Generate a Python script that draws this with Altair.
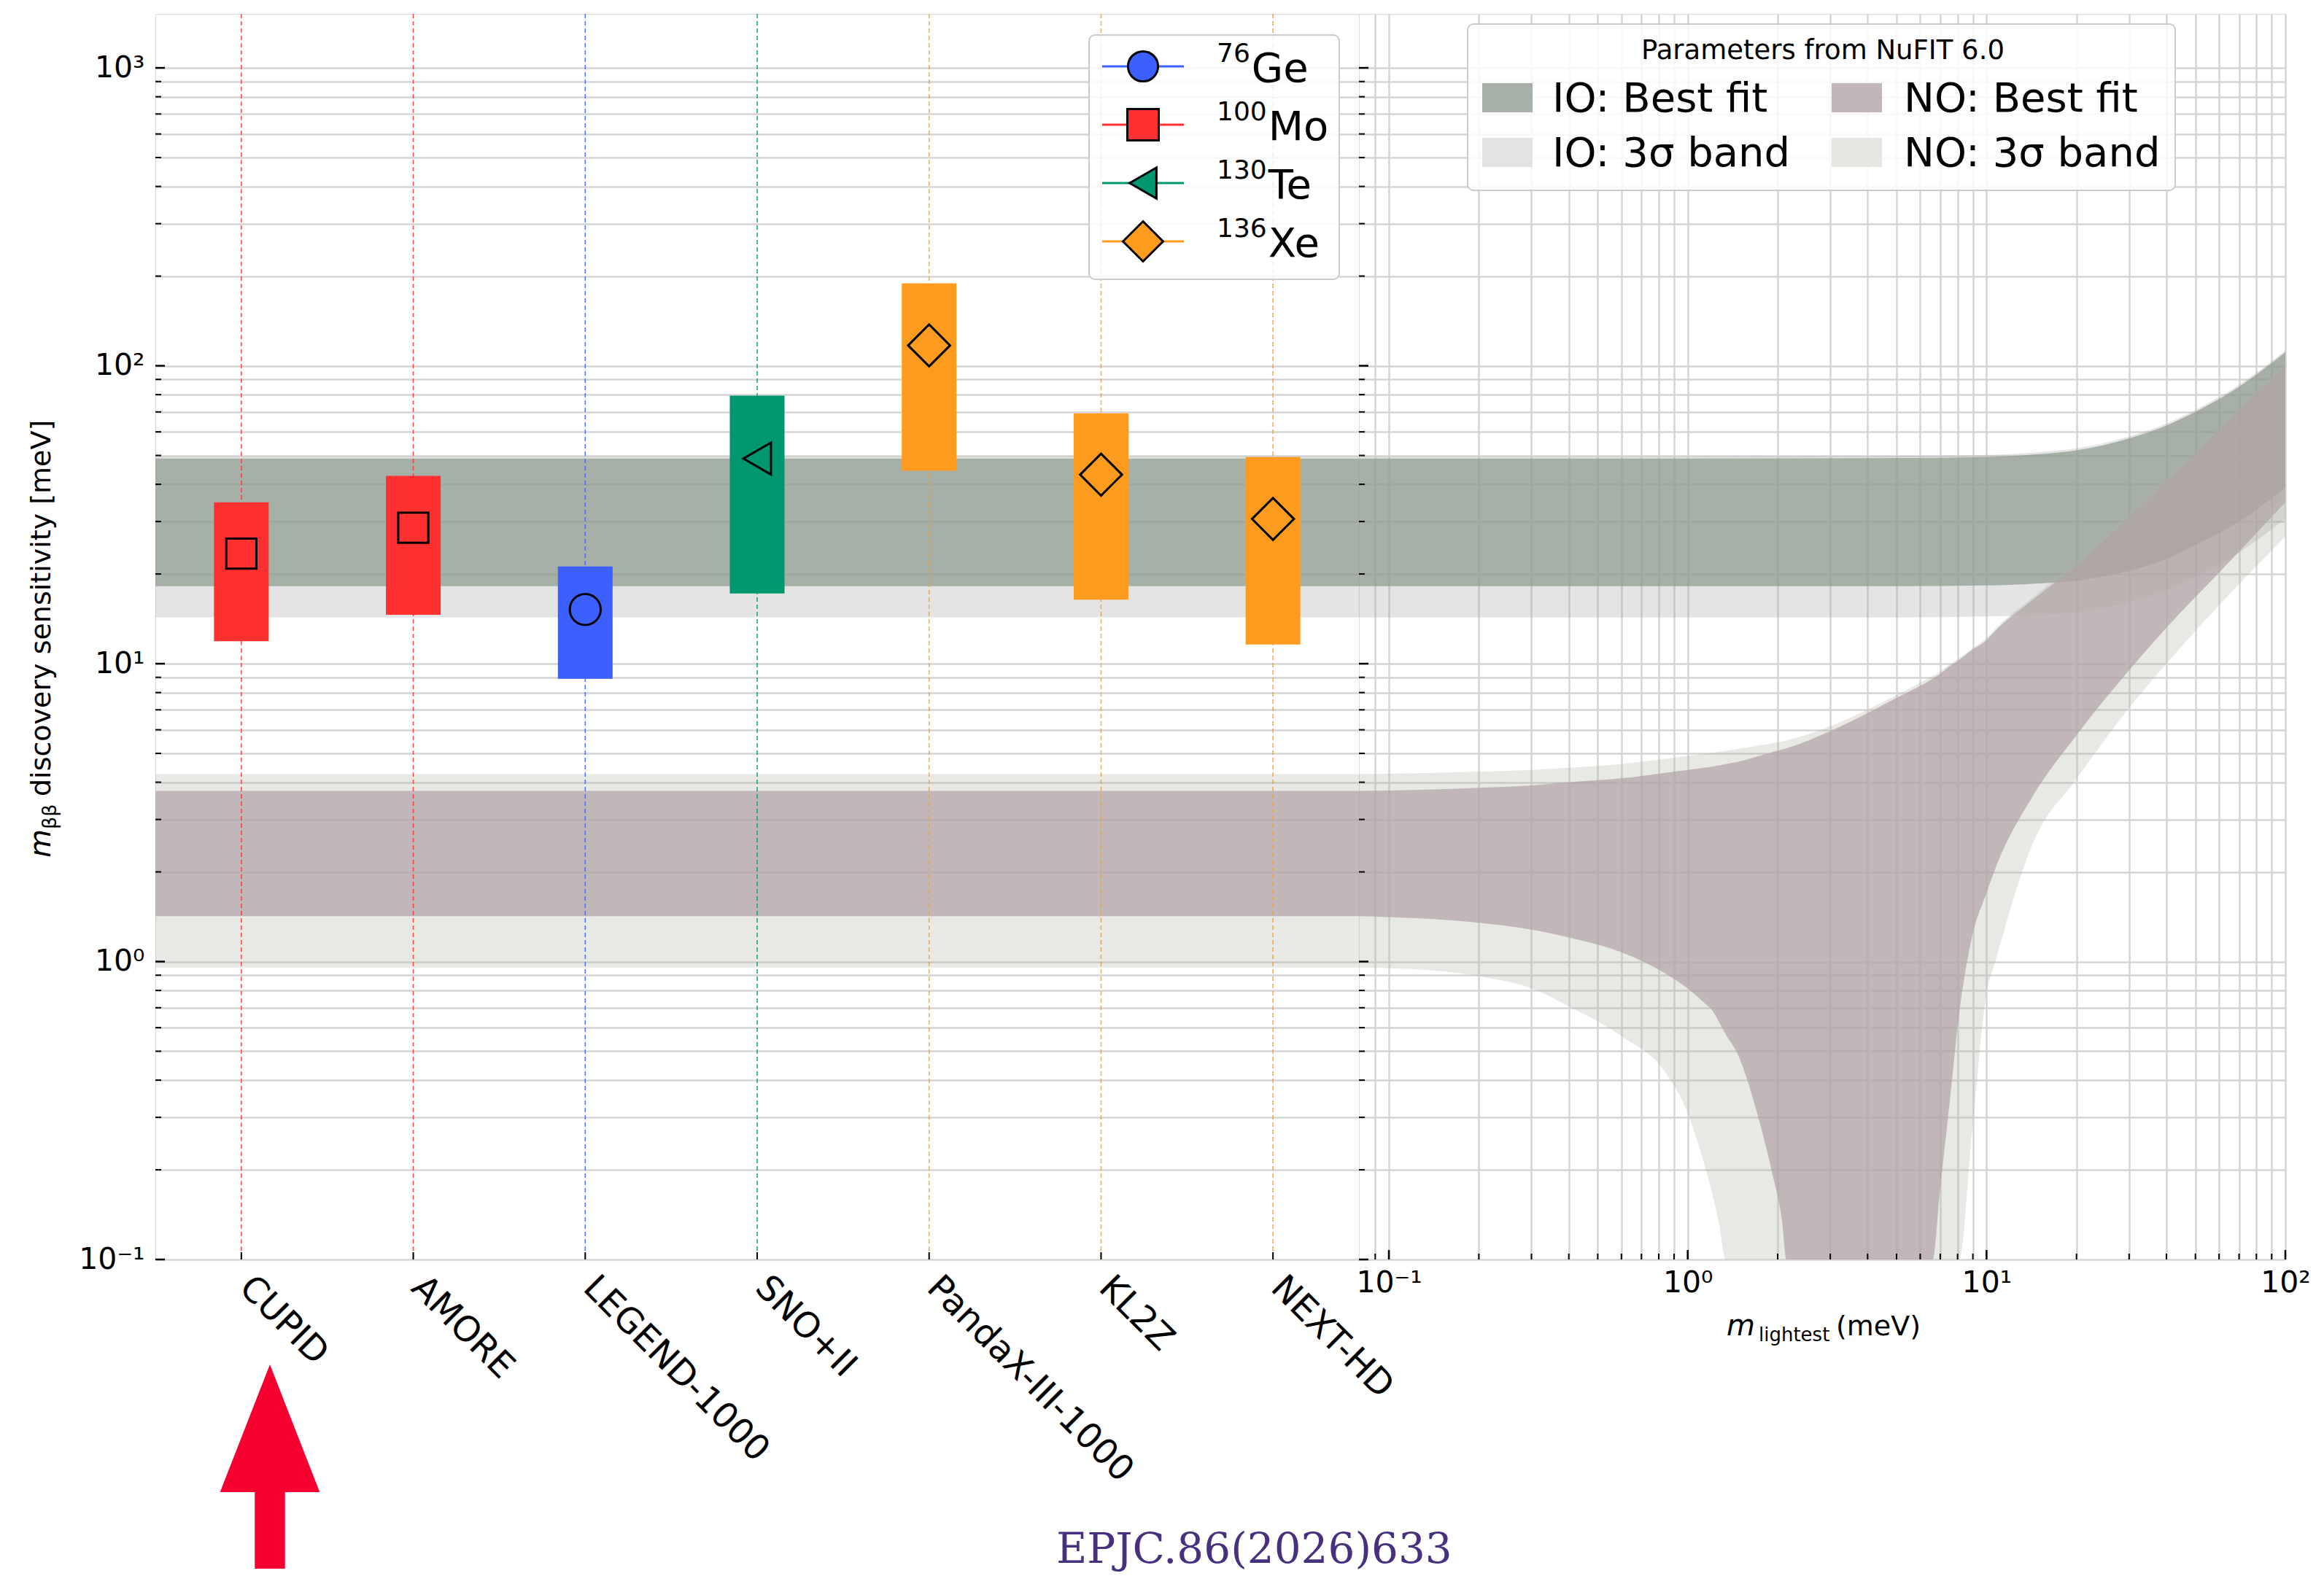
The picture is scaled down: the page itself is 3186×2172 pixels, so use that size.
import altair as alt
import pandas as pd

# ---------------- data ----------------
EXPERIMENTS = ["CUPID", "AMORE", "LEGEND-1000", "SNO+II", "PandaX-III-1000", "KL2Z", "NEXT-HD"]
EXP_ISOTOPE = ["Mo", "Mo", "Ge", "Te", "Xe", "Xe", "Xe"]
SENS_LOW = [11.9, 14.6, 8.9, 17.2, 44.4, 16.4, 11.6]
SENS_MID = [23.4, 28.6, 15.2, 48.8, 117.0, 43.1, 30.6]
SENS_HIGH = [34.8, 42.7, 21.2, 79.4, 189.0, 69.2, 49.4]

ISOTOPES = ["Ge", "Mo", "Te", "Xe"]
ISOTOPE_MASS = ["76", "100", "130", "136"]
ISOTOPE_COLORS = ["#3c5fff", "#ff3030", "#00966e", "#fd9b1f"]
ISOTOPE_SHAPES = ["circle", "square", "triangle-left", "diamond"]

# bands at m_lightest -> 0 (left panel)
IO_BF = [18.2, 48.8]
IO_3S = [14.3, 49.6]
NO_BF = [1.42, 3.74]
NO_3S = [0.955, 4.26]

# inverted ordering vs m_lightest (right panel)
IO_M = [0.079, 1, 5, 10, 15, 20, 30, 40, 50, 70, 100]
IO_BF_LO = [18.2, 18.2, 18.2, 18.3, 18.6, 19.0, 20.5, 22.5, 25.0, 30.0, 39.0]
IO_BF_HI = [48.8, 48.8, 49.0, 49.4, 50.5, 52.0, 57.0, 63.0, 70.0, 85.0, 111.0]
IO_3S_LO = [14.3, 14.3, 14.3, 14.4, 14.6, 14.9, 16.1, 17.6, 19.6, 23.6, 30.6]
IO_3S_HI = [49.6, 49.6, 49.8, 50.2, 51.3, 52.8, 57.9, 64.0, 71.1, 86.4, 112.5]

# normal ordering vs m_lightest (right panel)
NO_M = [0.079, 0.1, 0.2, 0.3, 0.4, 0.6, 0.84, 1.0, 1.13, 1.22, 1.27, 1.34, 1.47, 1.71, 1.92,
        2.07, 2.14, 3.0, 5.0, 6.6, 6.98, 7.53, 8.11, 8.91, 10.0, 10.7, 14.3, 20, 30, 40, 60, 100]
NO_BF_HI = [3.74, 3.75, 3.83, 3.9, 4.0, 4.12, 4.3, 4.4, 4.47, 4.52, 4.55, 4.6, 4.68, 4.88, 5.05,
            5.15, 5.2, 5.94, 7.67, 8.9, 9.23, 9.8, 10.3, 11.1, 12.0, 12.9, 16.4, 21.4, 31.2, 41.0, 60.8, 100.0]
NO_BF_LO = [1.42, 1.41, 1.35, 1.28, 1.205, 1.074, 0.913, 0.813, 0.73, 0.676, 0.63, 0.57, 0.489, 0.308, 0.194,
            0.134, 0.1, 0.1, 0.1, 0.1, 0.169, 0.338, 0.676, 1.19, 1.7, 2.05, 3.6, 5.75, 9.5, 13.2, 20.2, 34.8]
NO_3S_HI = [4.26, 4.27, 4.34, 4.4, 4.47, 4.6, 4.79, 4.9, 4.98, 5.03, 5.06, 5.1, 5.17, 5.3, 5.4,
            5.48, 5.52, 6.17, 7.85, 9.1, 9.4, 9.95, 10.45, 11.2, 12.2, 13.1, 16.7, 22.0, 32.0, 42.0, 62.0, 102.0]
NO_3S_LO = [0.955, 0.95, 0.893, 0.813, 0.708, 0.562, 0.426, 0.31, 0.213, 0.16, 0.134, 0.1, 0.1, 0.1, 0.1,
            0.1, 0.1, 0.1, 0.1, 0.1, 0.1, 0.1, 0.1, 0.256, 0.78, 1.0, 2.5, 4.1, 7.1, 10.0, 15.7, 26.7]

Y_MAJOR = [0.1, 1, 10, 100, 1000]
Y_MINOR = [0.2, 0.3, 0.4, 0.5, 0.6, 0.7, 0.8, 0.9, 2, 3, 4, 5, 6, 7, 8, 9,
           20, 30, 40, 50, 60, 70, 80, 90, 200, 300, 400, 500, 600, 700, 800, 900]
X_MAJOR = [0.1, 1, 10, 100]
X_MINOR = [0.09, 0.2, 0.3, 0.4, 0.5, 0.6, 0.7, 0.8, 0.9, 2, 3, 4, 5, 6, 7, 8, 9,
           20, 30, 40, 50, 60, 70, 80, 90]

# ---------------- styling ----------------
FONT = "DejaVu Sans"
GRID = "#d4d4d4"
W_L, W_R, H = 1650, 1270, 1708

IO3_COLOR, IO3_OP = "#a2a5a2", 0.3
IOBF_COLOR, IOBF_OP = "#8c9a8c", 0.7
NO3_COLOR, NO3_OP = "#b2b2a8", 0.3
NOBF_COLOR, NOBF_OP = "#b0a2a5", 0.7

yscale = alt.Scale(type="log", domain=[0.1, 1518], nice=False)
xscale = alt.Scale(type="log", domain=[0.0794, 100], nice=False)
cat_scale = alt.Scale(type="band", domain=EXPERIMENTS, paddingInner=0, paddingOuter=0)
iso_color = alt.Color("iso:N", scale=alt.Scale(domain=ISOTOPES, range=ISOTOPE_COLORS), legend=None)

Y_LABELS = ("datum.value == 1000 ? '10³' : datum.value == 100 ? '10²' : datum.value == 10 ? '10¹' : "
            "datum.value == 1 ? '10⁰' : datum.value == 0.1 ? '10⁻¹' : ''")
X_LABELS = ("datum.value == 100 ? '10²' : datum.value == 10 ? '10¹' : "
            "datum.value == 1 ? '10⁰' : datum.value == 0.1 ? '10⁻¹' : ''")

Y_AXIS_L = alt.Axis(values=Y_MAJOR + Y_MINOR, labelExpr=Y_LABELS, grid=True, gridColor=GRID, gridWidth=2.5,
                    ticks=False, tickSize=0, domain=False, labelPadding=15, labelFontSize=41, labelFont=FONT,
                    labelColor="black", title=None, labelOverlap=False, labelFlush=False)
Y_AXIS_R = alt.Axis(values=Y_MAJOR + Y_MINOR, grid=True, gridColor=GRID, gridWidth=2.5, labels=False,
                    ticks=False, domain=False, title=None)
X_AXIS_R = alt.Axis(values=X_MAJOR + X_MINOR, labelExpr=X_LABELS, grid=True, gridColor=GRID, gridWidth=2.5,
                    ticks=False, tickSize=0, domain=False, labelPadding=12, labelFontSize=41, labelFont=FONT,
                    labelColor="black", title=None, labelOverlap=False, labelFlush=False)
X_AXIS_L = alt.Axis(labelAngle=45, labelAlign="left", labelBaseline="top", labelPadding=14, labelOffset=22,
                    labelFontSize=48, labelFont=FONT, labelColor="black", ticks=False, domain=False,
                    grid=False, title=None, labelOverlap=False, labelLimit=0)


def Xc():
    return alt.X("exp:N", scale=cat_scale, axis=X_AXIS_L)


def dummy():
    return alt.Chart(alt.Data(values=[{"k": 0}]))


def txt(text, x, y, size, align="left", baseline="alphabetic", color="black", font=FONT, **kw):
    return dummy().mark_text(text=text, fontSize=size, font=font, color=color, align=align,
                             baseline=baseline, **kw).encode(x=alt.value(x), y=alt.value(y))


def box(x1, x2, y1, y2, **kw):
    return dummy().mark_rect(**kw).encode(x=alt.value(x1), x2=alt.value(x2), y=alt.value(y1), y2=alt.value(y2))


exp_df = pd.DataFrame({"exp": EXPERIMENTS, "iso": EXP_ISOTOPE, "lo": SENS_LOW, "mid": SENS_MID, "hi": SENS_HIGH})

# ---------------- left panel ----------------
left_layers = []
for (lo, hi), col, op in [(IO_3S, IO3_COLOR, IO3_OP), (IO_BF, IOBF_COLOR, IOBF_OP),
                          (NO_3S, NO3_COLOR, NO3_OP), (NO_BF, NOBF_COLOR, NOBF_OP)]:
    left_layers.append(
        alt.Chart(alt.Data(values=[{"lo": lo, "hi": hi}])).mark_rect(color=col, opacity=op).encode(
            x=alt.value(0), x2=alt.value(W_L),
            y=alt.Y("lo:Q", scale=yscale, axis=Y_AXIS_L), y2="hi:Q"))

left_layers.append(alt.Chart(exp_df).mark_rule(strokeDash=[6, 4], strokeWidth=1.6, opacity=0.85).encode(
    x=Xc(), color=iso_color, y=alt.value(0), y2=alt.value(H)))
left_layers.append(alt.Chart(exp_df).mark_rule(color="black", strokeWidth=2).encode(
    x=Xc(), y=alt.value(H), y2=alt.value(H - 10)))
left_layers.append(alt.Chart(exp_df).mark_bar(size=75, opacity=1).encode(
    x=Xc(), y=alt.Y("lo:Q", scale=yscale, axis=Y_AXIS_L), y2="hi:Q", color=iso_color))

PLOT_SIZES = {"circle": 1800, "square": 1700, "triangle-left": 1900, "diamond": 3300}
for iso, col, shp in zip(ISOTOPES, ISOTOPE_COLORS, ISOTOPE_SHAPES):
    left_layers.append(alt.Chart(exp_df).transform_filter(alt.datum.iso == iso).mark_point(
        shape=shp, size=PLOT_SIZES[shp], filled=True, fill=col, stroke="black", strokeWidth=3,
        opacity=1, fillOpacity=1, strokeOpacity=1).encode(
        x=Xc(), y=alt.Y("mid:Q", scale=yscale, axis=Y_AXIS_L)))

# inward ticks on left axis
left_layers.append(alt.Chart(pd.DataFrame({"v": Y_MAJOR})).mark_rule(color="black", strokeWidth=2.5).encode(
    x=alt.value(0), x2=alt.value(13), y=alt.Y("v:Q", scale=yscale, axis=Y_AXIS_L)))
left_layers.append(alt.Chart(pd.DataFrame({"v": Y_MINOR})).mark_rule(color="black", strokeWidth=2).encode(
    x=alt.value(0), x2=alt.value(8), y=alt.Y("v:Q", scale=yscale, axis=Y_AXIS_L)))

# isotope legend
left_layers.append(box(1280, 1623, 29, 364, fill="white", fillOpacity=0.8, stroke="#cccccc",
                       strokeWidth=2, cornerRadius=8))
LEG_SIZES = {"circle": 1700, "square": 1850, "triangle-left": 1800, "diamond": 3025}
for i, (iso, mass, col, shp) in enumerate(zip(ISOTOPES, ISOTOPE_MASS, ISOTOPE_COLORS, ISOTOPE_SHAPES)):
    cy = 72 + i * 80
    left_layers.append(dummy().mark_rule(color=col, strokeWidth=3).encode(
        x=alt.value(1298), x2=alt.value(1410), y=alt.value(cy)))
    left_layers.append(dummy().mark_point(shape=shp, size=LEG_SIZES[shp], filled=True, fill=col,
                                          stroke="black", strokeWidth=3, opacity=1).encode(
        x=alt.value(1354), y=alt.value(cy)))
    left_layers.append(txt(mass, 1455, cy - 6, 36))
    left_layers.append(txt(iso, 1455 + len(mass) * 22.9 + 2, cy + 21, 56))

# y title (m_bb discovery sensitivity [meV])
left_layers.append(txt("m", -144, 1157, 40, angle=270, fontStyle="italic"))
left_layers.append(txt("ββ", -136, 1118, 27, angle=270))
left_layers.append(txt("discovery sensitivity [meV]", -144, 1073, 38, angle=270))

# reference annotation and arrow
left_layers.append(txt("EPJC.86(2026)633", 1235, 2124, 58, font="DejaVu Serif", color="#46307f"))
ARROW = "M0,-1L0.488,0.25L0.148,0.25L0.148,1L-0.148,1L-0.148,0.25L-0.488,0.25Z"
left_layers.append(dummy().mark_point(shape=ARROW, size=78400, filled=True, fill="#f7002f",
                                      opacity=1, strokeWidth=0).encode(x=alt.value(157), y=alt.value(1992)))
# invisible anchor fixing the outer margin
left_layers.append(dummy().mark_rule(color="white", strokeWidth=1).encode(
    x=alt.value(-204), y=alt.value(-10), y2=alt.value(0)))

left = alt.layer(*left_layers).properties(width=W_L, height=H)

# ---------------- right panel ----------------
right_layers = []
bands_r = [
    (IO_M, IO_3S_LO, IO_3S_HI, IO3_COLOR, IO3_OP),
    (IO_M, IO_BF_LO, IO_BF_HI, IOBF_COLOR, IOBF_OP),
    (NO_M, NO_3S_LO, NO_3S_HI, NO3_COLOR, NO3_OP),
    (NO_M, NO_BF_LO, NO_BF_HI, NOBF_COLOR, NOBF_OP),
]
for m, lo, hi, col, op in bands_r:
    df = pd.DataFrame({"m": m, "lo": lo, "hi": hi})
    right_layers.append(alt.Chart(df).mark_area(color=col, opacity=op, interpolate="monotone", clip=True).encode(
        x=alt.X("m:Q", scale=xscale, axis=X_AXIS_R),
        y=alt.Y("hi:Q", scale=yscale, axis=Y_AXIS_R), y2="lo:Q"))

right_layers.append(alt.Chart(pd.DataFrame({"v": Y_MAJOR})).mark_rule(color="black", strokeWidth=2.5).encode(
    x=alt.value(0), x2=alt.value(13), y=alt.Y("v:Q", scale=yscale, axis=Y_AXIS_R)))
right_layers.append(alt.Chart(pd.DataFrame({"v": Y_MINOR})).mark_rule(color="black", strokeWidth=2).encode(
    x=alt.value(0), x2=alt.value(8), y=alt.Y("v:Q", scale=yscale, axis=Y_AXIS_R)))
right_layers.append(alt.Chart(pd.DataFrame({"v": X_MAJOR})).mark_rule(color="black", strokeWidth=2.5).encode(
    x=alt.X("v:Q", scale=xscale, axis=X_AXIS_R), y=alt.value(H), y2=alt.value(H - 13)))
right_layers.append(alt.Chart(pd.DataFrame({"v": X_MINOR})).mark_rule(color="black", strokeWidth=2).encode(
    x=alt.X("v:Q", scale=xscale, axis=X_AXIS_R), y=alt.value(H), y2=alt.value(H - 8)))

# NuFIT legend
right_layers.append(box(149, 1119, 14, 242, fill="white", fillOpacity=0.8, stroke="#cccccc",
                        strokeWidth=2, cornerRadius=8))
right_layers.append(txt("Parameters from NuFIT 6.0", 636, 62, 37, align="center"))
right_layers.append(box(169, 238, 95, 135, color="#a6b0a6"))
right_layers.append(box(648, 717, 95, 135, color="#c1b7b8"))
right_layers.append(box(169, 238, 170, 210, color="#e2e3e2"))
right_layers.append(box(648, 717, 170, 210, color="#e7e6e3"))
right_layers.append(txt("IO: Best fit", 265, 134, 56))
right_layers.append(txt("NO: Best fit", 747, 134, 56))
right_layers.append(txt("IO: 3σ band", 265, 209, 56))
right_layers.append(txt("NO: 3σ band", 747, 209, 56))

# x title (m_lightest (meV))
right_layers.append(txt("m", 504, 1812, 40, fontStyle="italic"))
right_layers.append(txt("lightest", 548, 1820, 26))
right_layers.append(txt("(meV)", 654, 1812, 38))

right = alt.layer(*right_layers).properties(width=W_R, height=H)

chart = alt.hconcat(left, right, spacing=0, bounds="flush").properties(
    padding=0
).configure_view(stroke="black", strokeWidth=3).configure(background="white", font=FONT)

chart.save("out.html", embed_options={"renderer": "svg", "actions": False})
